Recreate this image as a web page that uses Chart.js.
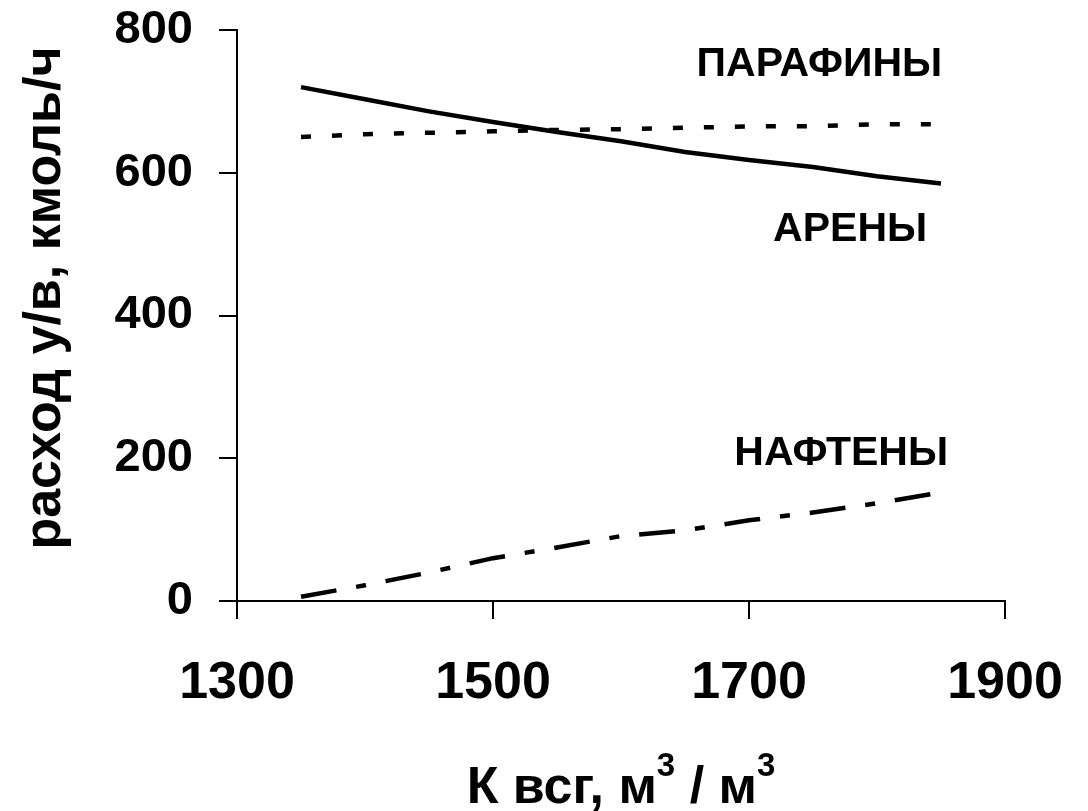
<!DOCTYPE html>
<html>
<head>
<meta charset="utf-8">
<script src="https://cdn.jsdelivr.net/npm/chart.js@4"></script>
<style>
  html, body { margin: 0; padding: 0; background: #fff; }
  #wrap { width: 1088px; height: 811px; }
</style>
</head>
<body>
<div id="wrap"><canvas id="chart" width="1088" height="811"></canvas></div>
<script>
// x values (К всг, м3/м3)
const kvsg = [1350, 1400, 1450, 1500, 1550, 1600, 1650, 1700, 1750, 1800, 1850];
// расход, кмоль/ч
const arenes     = [720, 703, 686, 671, 657, 644, 629, 618, 608, 595, 585];
const paraffins  = [650, 654, 656, 658, 660, 661, 663, 665, 665, 668, 668];
const naphthenes = [6, 22, 40, 60, 75, 91, 99, 113, 124, 137, 152];

// text labels inside the plot (data coords)
const tagText = ['ПАРАФИНЫ', 'АРЕНЫ', 'НАФТЕНЫ'];
const tagX = [1755, 1779, 1772];
const tagY = [735, 504, 190];

const yTitle = 'расход у/в, кмоль/ч';
// x title pieces: [text, superscript?]
const xTitleParts = [['К всг, м', false], ['3', true], [' / м', false], ['3', true]];

const FONT = '"Liberation Sans", Arial, sans-serif';

function pts(ys) {
    return kvsg.map((x, i) => ({ x: x, y: ys[i] }));
}

// draws the series names and the axis titles
const tagPlugin = {
    id: 'tags',
    afterDatasetsDraw(chart) {
        const ctx = chart.ctx;
        const sx = chart.scales.x, sy = chart.scales.y;
        const area = chart.chartArea;
        ctx.save();
        ctx.fillStyle = '#000';
        ctx.font = 'bold 41px ' + FONT;
        ctx.textAlign = 'center';
        ctx.textBaseline = 'alphabetic';
        tagText.forEach((t, i) => {
            ctx.fillText(t, sx.getPixelForValue(tagX[i]), sy.getPixelForValue(tagY[i]));
        });

        // x axis title with superscripts
        const big = 'bold 52px ' + FONT, small = 'bold 33px ' + FONT;
        ctx.textAlign = 'left';
        let total = 0;
        xTitleParts.forEach(p => { ctx.font = p[1] ? small : big; total += ctx.measureText(p[0]).width; });
        let x = (area.left + area.right) / 2 - total / 2;
        const base = 803;
        xTitleParts.forEach(p => {
            ctx.font = p[1] ? small : big;
            ctx.fillText(p[0], x, p[1] ? base - 27 : base);
            x += ctx.measureText(p[0]).width;
        });

        // y axis title
        ctx.font = 'bold 52px ' + FONT;
        ctx.textAlign = 'center';
        ctx.textBaseline = 'middle';
        ctx.translate(46, 298);
        ctx.rotate(-Math.PI / 2);
        ctx.fillText(yTitle, 0, 0);
        ctx.restore();
    }
};

const lineStyle = { borderColor: '#000', borderWidth: 4.5, pointRadius: 0, tension: 0, fill: false };

new Chart(document.getElementById('chart').getContext('2d'), {
    type: 'line',
    data: {
        datasets: [
            Object.assign({ label: 'АРЕНЫ', data: pts(arenes) }, lineStyle),
            Object.assign({ label: 'ПАРАФИНЫ', data: pts(paraffins), borderDash: [10, 21] }, lineStyle),
            Object.assign({ label: 'НАФТЕНЫ', data: pts(naphthenes), borderDash: [36, 20, 10, 20] }, lineStyle)
        ]
    },
    options: {
        responsive: false,
        animation: false,
        layout: { padding: { top: 30, right: 83, left: 0, bottom: 0 } },
        plugins: { legend: { display: false }, tooltip: { enabled: false } },
        scales: {
            x: {
                type: 'linear',
                min: 1300, max: 1900,
                afterFit(scale) {
                    scale.height = 210;
                    scale.paddingLeft = 0;
                    scale.paddingRight = 0;
                },
                border: { color: '#000', width: 2 },
                grid: { drawOnChartArea: false, drawTicks: true, tickLength: 18, color: '#000', lineWidth: 2 },
                ticks: {
                    stepSize: 200,
                    color: '#000',
                    padding: 33,
                    callback: v => String(v),
                    font: { family: FONT, size: 52, weight: 'bold' }
                }
            },
            y: {
                min: 0, max: 800,
                afterFit(scale) {
                    scale.width = 237;
                    scale.paddingTop = 0;
                    scale.paddingBottom = 0;
                },
                border: { color: '#000', width: 2 },
                grid: { drawOnChartArea: false, drawTicks: true, tickLength: 18, color: '#000', lineWidth: 2 },
                ticks: {
                    stepSize: 200,
                    color: '#000',
                    padding: 26,
                    callback: v => String(v),
                    font: { family: FONT, size: 47, weight: 'bold' }
                }
            }
        }
    },
    plugins: [tagPlugin]
});
</script>
</body>
</html>
